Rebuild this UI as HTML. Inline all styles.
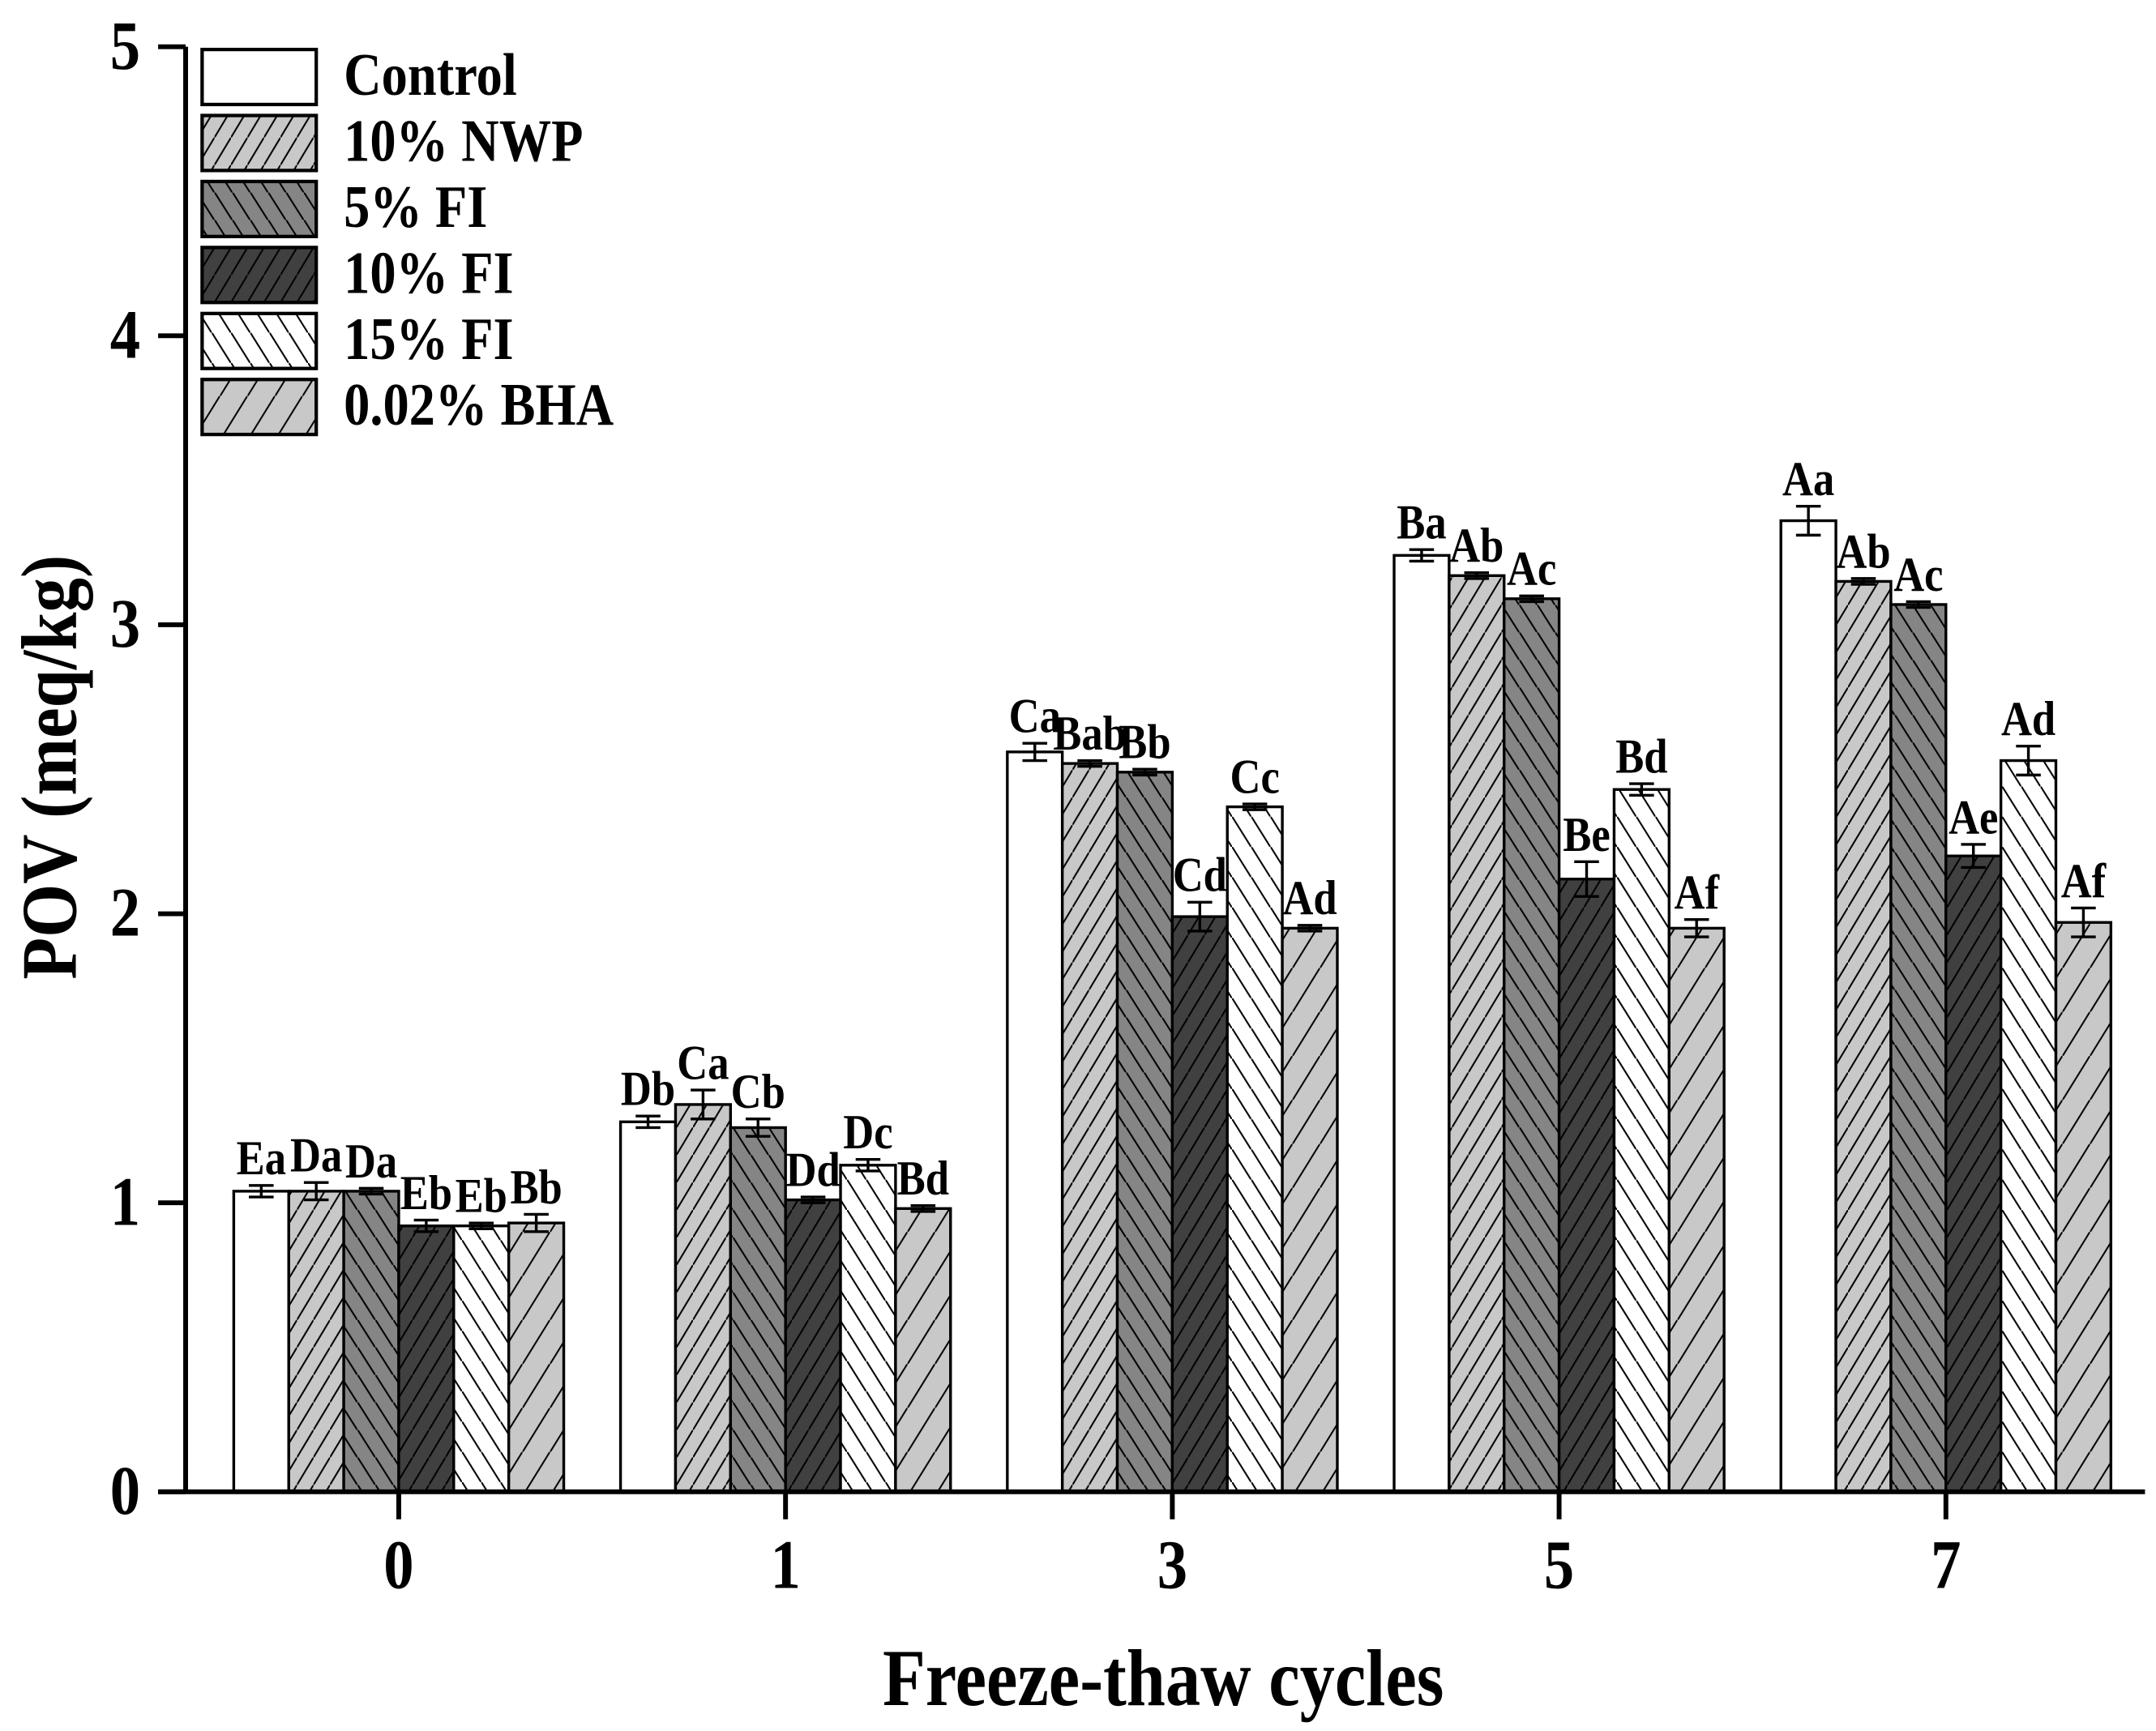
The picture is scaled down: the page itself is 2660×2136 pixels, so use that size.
<!DOCTYPE html>
<html><head><meta charset="utf-8"><style>
html,body{margin:0;padding:0;background:#fff;}
svg{display:block;}
text{font-family:"Liberation Serif",serif;font-weight:bold;fill:#000;}
</style></head><body>
<svg id="chart" width="2660" height="2136" viewBox="0 0 1568 1259" preserveAspectRatio="none" xmlns="http://www.w3.org/2000/svg">
<defs>
<pattern id="p1" patternUnits="userSpaceOnUse" width="12" height="20"><rect width="12" height="20" fill="#c8c8c8"/><path d="M-3,25 L15,-5" stroke="#000" stroke-width="1.2"/></pattern>
<pattern id="p2" patternUnits="userSpaceOnUse" width="13" height="20"><rect width="13" height="20" fill="#858585"/><path d="M-3,-5 L16,25" stroke="#000" stroke-width="1.2"/></pattern>
<pattern id="p3" patternUnits="userSpaceOnUse" width="12" height="20"><rect width="12" height="20" fill="#404040"/><path d="M-3,25 L15,-5" stroke="#000" stroke-width="1.2"/></pattern>
<pattern id="p4" patternUnits="userSpaceOnUse" width="14" height="22"><rect width="14" height="22" fill="#fff"/><path d="M-3,-5 L17,27" stroke="#000" stroke-width="1.2"/></pattern>
<pattern id="p5" patternUnits="userSpaceOnUse" width="20" height="32"><rect width="20" height="32" fill="#c8c8c8"/><path d="M-3,37 L23,-5" stroke="#000" stroke-width="1.2"/></pattern>
</defs>
<g id="plot"></g>
</svg>
<script>
const categories = ["0","1","3","5","7"];
const seriesNames = ["Control","10% NWP","5% FI","10% FI","15% FI","0.02% BHA"];
const control = [1.04,1.28,2.56,3.24,3.36];
const nwp10 = [1.04,1.34,2.52,3.17,3.15];
const fi5 = [1.04,1.26,2.49,3.09,3.07];
const fi10 = [0.92,1.01,1.99,2.12,2.20];
const fi15 = [0.92,1.13,2.37,2.43,2.53];
const bha = [0.93,0.98,1.95,1.95,1.97];
const errControl = [0.02,0.02,0.03,0.02,0.05];
const errNwp10 = [0.03,0.05,0.01,0.01,0.01];
const errFi5 = [0.01,0.03,0.01,0.01,0.01];
const errFi10 = [0.02,0.01,0.05,0.06,0.04];
const errFi15 = [0.01,0.02,0.01,0.02,0.05];
const errBha = [0.03,0.01,0.01,0.03,0.05];
const labControl = ["Ea","Db","Ca","Ba","Aa"];
const labNwp10 = ["Da","Ca","Bab","Ab","Ab"];
const labFi5 = ["Da","Cb","Bb","Ac","Ac"];
const labFi10 = ["Eb","Dd","Cd","Be","Ae"];
const labFi15 = ["Eb","Dc","Cc","Bd","Ad"];
const labBha = ["Bb","Bd","Ad","Af","Af"];
const yTicks = [0,1,2,3,4,5];

const series=[control,nwp10,fi5,fi10,fi15,bha];
const errs=[errControl,errNwp10,errFi5,errFi10,errFi15,errBha];
const labs=[labControl,labNwp10,labFi5,labFi10,labFi15,labBha];
const fills=["#fff","url(#p1)","url(#p2)","url(#p3)","url(#p4)","url(#p5)"];
const NS="http://www.w3.org/2000/svg";
const g=document.getElementById('plot');
const X0=135, XEND=1560, Y0=1085, Y5=34;
const VS=1.15;
function yS(v){return Y0-(Y0-Y5)*v/5;}
function xC(i){return 290+i*281.3;}
const BW=40;
function mk(tag,attrs,parent){const e=document.createElementNS(NS,tag);for(const k in attrs)e.setAttribute(k,attrs[k]);(parent||g).appendChild(e);return e;}
function txt(x,y,size,anchor,extra){return mk('text',{x:0,y:0,'text-anchor':anchor,'font-size':size,transform:`translate(${x},${y}) ${extra||''} scale(1,${VS})`});}

series.forEach((s,si)=>{
  s.forEach((v,ci)=>{
    const x=xC(ci)-3*BW+si*BW;
    const r=mk('rect',{x:x,y:yS(v),width:BW,height:Y0-yS(v),fill:fills[si],stroke:'#000','stroke-width':2});
    
    
    const cx=x+BW/2, e=errs[si][ci];
    const eb=mk('path',{d:`M${cx},${yS(v+e)}V${yS(v-e)}M${cx-9},${yS(v+e)}h18M${cx-9},${yS(v-e)}h18`,stroke:'#000','stroke-width':2,fill:'none'});
    
    
    const t=txt(cx,yS(v+e)-8,31,'middle');
    t.textContent=labs[si][ci];
    
    
  });
});
const ya=mk('path',{d:`M${X0},${Y0}V${Y5}`,stroke:'#000','stroke-width':3.5,fill:'none'});


const xa=mk('path',{d:`M${X0-20},${Y0}H${XEND}`,stroke:'#000','stroke-width':3.5,fill:'none'});


yTicks.forEach(v=>{
  mk('path',{d:`M${X0-20},${yS(v)}H${X0}`,stroke:'#000','stroke-width':3.5});
  const t=txt(102,yS(v)+16,44,'end');
  t.textContent=v;
  
  
});
categories.forEach((c,ci)=>{
  mk('path',{d:`M${xC(ci)},${Y0}V${Y0+20}`,stroke:'#000','stroke-width':3.5});
  const t=txt(xC(ci),1155,44,'middle');
  t.textContent=c;
  
  
});
const xt=txt(846,1240,51,'middle');
xt.textContent='Freeze-thaw cycles';


const yt=mk('text',{x:0,y:0,'text-anchor':'middle','font-size':50,transform:`translate(55,558) rotate(-90) scale(1,${VS})`});
yt.textContent='POV (meq/kg)';


seriesNames.forEach((n,i)=>{
  const y=36+i*48;
  const r=mk('rect',{x:147,y:y,width:83,height:40,fill:fills[i],stroke:'#000','stroke-width':2.5});
  
  
  const t=txt(250,y+33,38,'start');
  t.textContent=n;
  
  
});
</script>
</body></html>
